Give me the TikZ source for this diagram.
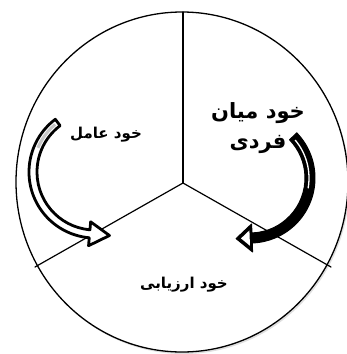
\documentclass[tikz,border=0pt]{standalone}
\usepackage{fontspec}
\usetikzlibrary{calc,shadows}
\TeXXeTstate=1
\newfontfamily\arabicfont[Script=Arabic]{DejaVu Sans}
\begin{document}
\begin{tikzpicture}[x=1pt,y=-1pt,
  lbl/.style={font=\arabicfont\bfseries\fontsize{15}{18}\selectfont, align=center, inner sep=0pt},
  biglbl/.style={font=\arabicfont\bfseries\fontsize{21}{30}\selectfont, align=center, inner sep=0pt},
  spoke/.style={line width=1.2pt, line cap=round},
  rim/.style={line width=1.3pt, fill=white, drop shadow={shadow xshift=1.5pt, shadow yshift=-2pt, opacity=.25}},
  whitearrow/.style={fill=white, draw=black, line width=2.8pt, line join=round},
  blackarrow/.style={fill=black, draw=black, line width=1pt, line join=round}]
\useasboundingbox (0,0) rectangle (347,354);
% circle
\path[rim] (182,182) ellipse [x radius=166, y radius=170];
\draw[line width=1.3pt] (182,182) ellipse [x radius=166, y radius=170];
% spokes
\coordinate (O) at (183,183);
\coordinate (T) at (183,12);
\coordinate (L) at (35,267);
\coordinate (R) at (331,267);
\draw[spoke] (O) -- (T);
\draw[spoke] (O) -- (L);
\draw[spoke] (O) -- (R);
% left arrow
\coordinate (C1) at (95,172);
\coordinate (tip1) at (109.5,235.5);
\path[whitearrow]
  ($(C1)+(233:66)$) arc[start angle=233, end angle=95, radius=66]
  -- ($(C1)+(95:74)$) -- (tip1) -- ($(C1)+(95:50)$) -- ($(C1)+(95:58)$)
  arc[start angle=95, end angle=233, radius=58] -- cycle;
\draw[gray!45, line width=3pt] ($(C1)+(230:62)$) arc[start angle=230, end angle=203, radius=62];
% right arrow
\coordinate (C2) at (250,178);
\coordinate (tip2) at (236.1,238.6);
\path[blackarrow]
  ($(C2)+(-44:65)$) arc[start angle=-44, end angle=88, radius=65]
  -- ($(C2)+(88:74)$) -- (tip2) -- ($(C2)+(88:46)$) -- ($(C2)+(88:55)$)
  arc[start angle=88, end angle=-44, radius=55] -- cycle;
\fill[white] (250,245.8) -- (241,238.4) -- (249.4,230.4) -- cycle;
\draw[white, line width=1.3pt] ($(C2)+(-40:59)$) arc[start angle=-40, end angle=10, radius=59];
% labels
\node[lbl] (amel) at (106,135) {\beginR خود عامل\endR};
\node[biglbl] (miyan) at (258,128) {\beginR خود میان\endR\\ \beginR فردی\endR};
\node[lbl] (arz) at (184,285) {\beginR خود ارزیابی\endR};
\end{tikzpicture}
\end{document}
